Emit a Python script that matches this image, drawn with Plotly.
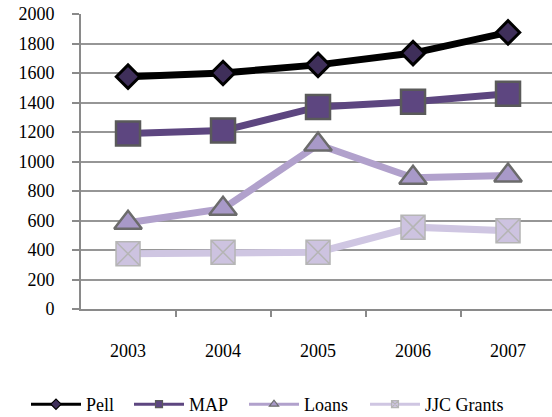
import plotly.graph_objects as go

years = ["2003", "2004", "2005", "2006", "2007"]
pell = [1575, 1600, 1655, 1735, 1875]
map_aid = [1190, 1210, 1370, 1405, 1460]
loans = [585, 680, 1115, 890, 905]
jjc_grants = [375, 385, 385, 555, 530]
y_ticks = [0, 200, 400, 600, 800, 1000, 1200, 1400, 1600, 1800, 2000]

xpos = list(range(len(years)))
font_family = "Liberation Serif"

fig = go.Figure()

# name, values, line colour, symbol, size, legend size, fill, outline, outline width, legend id, legend left (px)
series = [
    ("Pell", pell, "#000000", "diamond", 18, 8, "#3f2f5a", "#000000", 3, "legend", 26),
    ("MAP", map_aid, "#5d4680", "square", 24, 7, "#5d4680", "#5a5a5a", 2.5, "legend2", 129),
    ("Loans", loans, "#b1a1cc", "triangle-up", 24, 8, "#a899c8", "#6b6b6b", 2.5, "legend3", 244),
    ("JJC Grants", jjc_grants, "#cfc6e2", "square-x", 24, 7, "#cdc3e0", "#b5b5b5", 1.5, "legend4", 365),
]

legend_layouts = {}
for name, vals, lc, sym, msize, lsize, fill, mline, mlw, leg, leg_x in series:
    # plotted series
    fig.add_trace(go.Scatter(
        x=xpos, y=vals, name=name, mode="lines+markers", showlegend=False,
        line=dict(color=lc, width=7),
        marker=dict(symbol=sym, size=msize, color=fill, line=dict(color=mline, width=mlw)),
    ))
    # legend entry with smaller marker
    fig.add_trace(go.Scatter(
        x=[None], y=[None], name=name, mode="lines+markers", legend=leg,
        line=dict(color=lc, width=3),
        marker=dict(symbol=sym, size=lsize, color=fill, line=dict(color=mline, width=1.2)),
    ))
    legend_layouts[leg] = dict(
        orientation="h", xref="container", yref="container",
        x=leg_x / 552, xanchor="left", y=0.03, yanchor="middle",
        itemwidth=50,
        font=dict(family=font_family, size=18), bgcolor="rgba(0,0,0,0)",
    )

fig.update_layout(
    width=552, height=417,
    margin=dict(l=81, r=0, t=14, b=108, autoexpand=False),
    paper_bgcolor="white", plot_bgcolor="white",
    font=dict(family=font_family, size=18, color="black"),
    showlegend=True,
    **legend_layouts,
)

fig.update_xaxes(
    range=[-0.495, 4.463],
    tickmode="array", tickvals=xpos, ticktext=years,
    tickfont=dict(family=font_family, size=18),
    ticks="", showgrid=False, zeroline=False,
    showline=True, linecolor="#8a8a8a", linewidth=2,
    ticklabelstandoff=24,
    minor=dict(tickmode="array", tickvals=[-0.5, 0.5, 1.5, 2.5, 3.5, 4.5],
               ticks="outside", ticklen=6, tickcolor="#8a8a8a", tickwidth=2, showgrid=False),
)

fig.update_yaxes(
    range=[0, 2000],
    tickmode="array", tickvals=y_ticks,
    tickfont=dict(family=font_family, size=18),
    ticks="outside", ticklen=7, tickcolor="#8a8a8a", tickwidth=2,
    showgrid=True, gridcolor="#969696", gridwidth=1.5,
    zeroline=False,
    showline=True, linecolor="#8a8a8a", linewidth=2,
    ticklabelstandoff=14,
)

fig.write_html("out.html")
